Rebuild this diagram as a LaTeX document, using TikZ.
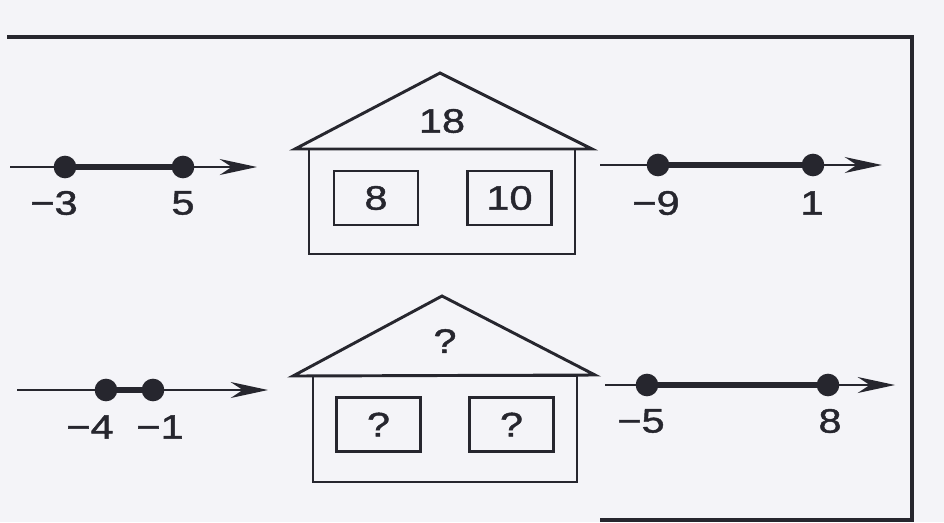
\documentclass[tikz,border=0pt]{standalone}
\usepackage{fontspec}
\setmainfont{Liberation Sans}
\newfontfamily\numfont{Liberation Sans}[FakeStretch=1.22, FakeBold=1.3]
\usetikzlibrary{arrows.meta}
\definecolor{ink}{RGB}{38,38,46}
\definecolor{paper}{RGB}{244,244,248}
\begin{document}
\begin{tikzpicture}[x=0.75pt,y=-0.75pt,
  numline/.style={draw=ink, line width=1.6pt, -{Stealth[length=28pt,width=12pt,inset=9pt]}},
  seg/.style={draw=ink, line width=4.8pt},
  dot/.style={circle, fill=ink, inner sep=0pt, minimum size=17pt},
  lbl/.style={font=\numfont\fontsize{25.5}{29}\selectfont, text=ink, inner sep=0pt},
  hline/.style={draw=ink, line width=2.2pt, line join=miter},
  win/.style={draw=ink, line width=2.2pt, minimum width=63pt, minimum height=40.5pt, inner sep=0pt, font=\numfont\fontsize{25.5}{29}\selectfont, text=ink},
  frame/.style={draw=ink, line width=2.8pt}
]
\fill[paper] (0,0) rectangle (944,522);
\useasboundingbox (0,0) rectangle (944,522);

% frame
\draw[frame] (7,37) -- (912,37) -- (912,520) -- (600,520);

% ---------- row 1 ----------
\coordinate (a1s) at (10,167);
\coordinate (a1e) at (257,167);
\node[dot] (a1p) at (65,167) {};
\node[dot] (a1q) at (183,167) {};
\draw[numline] (a1s) -- (a1e);
\draw[seg] (a1p.center) -- (a1q.center);
\node[lbl] (a1pl) at (54,203) {−3};
\node[lbl] (a1ql) at (183,203) {5};

% house 1
\draw[hline] (309,149) rectangle (575,254);
\draw[hline] (295,149) -- (440,73) -- (592,149) -- cycle;
\node[lbl] (h1roof) at (442,121) {18};
\node[win] (h1w1) at (376,198) {8};
\node[win] (h1w2) at (509.5,198) {10};

\coordinate (b1s) at (600,165);
\coordinate (b1e) at (882,165);
\node[dot] (b1p) at (658,165) {};
\node[dot] (b1q) at (813,165) {};
\draw[numline] (b1s) -- (b1e);
\draw[seg] (b1p.center) -- (b1q.center);
\node[lbl] (b1pl) at (656,203) {−9};
\node[lbl] (b1ql) at (812,203) {1};

% ---------- row 2 ----------
\coordinate (a2s) at (17,390);
\coordinate (a2e) at (268,390);
\node[dot] (a2p) at (106,390) {};
\node[dot] (a2q) at (153,390) {};
\draw[numline] (a2s) -- (a2e);
\draw[seg] (a2p.center) -- (a2q.center);
\node[lbl] (a2pl) at (90,427) {−4};
\node[lbl] (a2ql) at (160,427) {−1};

% house 2
\draw[hline] (313,376) rectangle (577,482);
\draw[hline] (293,376) -- (442,296) -- (595,375) -- cycle;
\node[lbl] (h2roof) at (445,341) {?};
\node[win] (h2w1) at (378.5,424.5) {?};
\node[win] (h2w2) at (511.5,424.5) {?};

\coordinate (b2s) at (605,385);
\coordinate (b2e) at (895,385);
\node[dot] (b2p) at (647,385) {};
\node[dot] (b2q) at (828,385) {};
\draw[numline] (b2s) -- (b2e);
\draw[seg] (b2p.center) -- (b2q.center);
\node[lbl] (b2pl) at (641,421) {−5};
\node[lbl] (b2ql) at (830,421) {8};
\end{tikzpicture}
\end{document}
